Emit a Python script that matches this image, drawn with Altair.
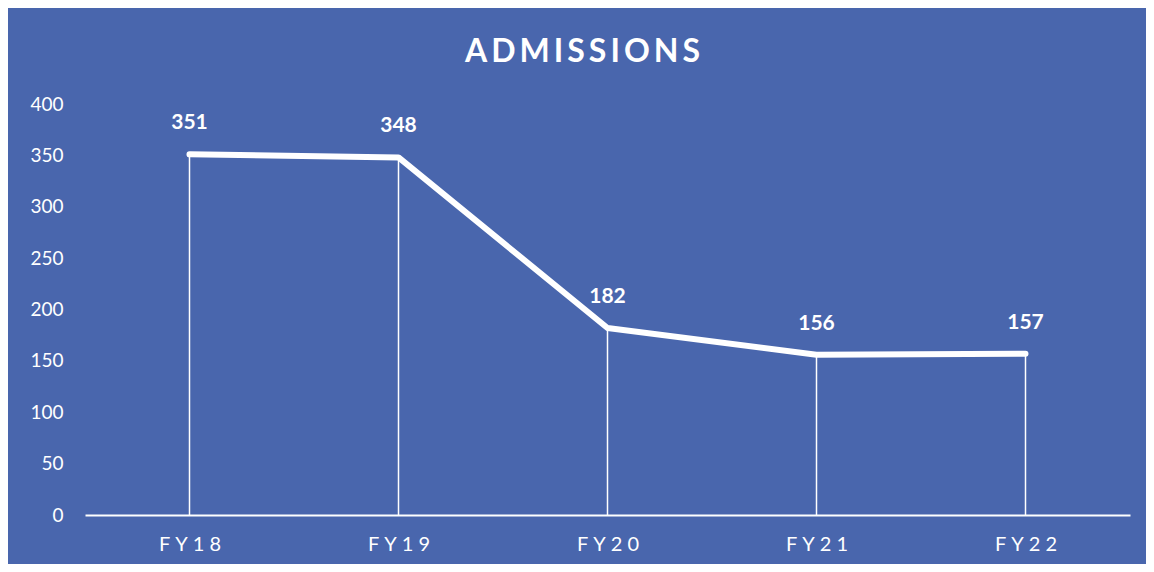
import altair as alt
import pandas as pd

years = ["FY18", "FY19", "FY20", "FY21", "FY22"]
admissions = [351, 348, 182, 156, 157]
y_ticks = [0, 50, 100, 150, 200, 250, 300, 350, 400]

df = pd.DataFrame({"year": years, "value": admissions})

BG = "#4966AD"
FONT = "Lato"
TS = "\u2009"
XS = "\u2005"

label_map = "{" + ",".join(f"'{y}':'{XS.join(y)}'" for y in years) + "}"

x = alt.X("year:N", sort=years,
          scale=alt.Scale(type="point", padding=0.5),
          axis=alt.Axis(title=None, labelAngle=0, ticks=False, domain=True,
                        domainColor="white", domainWidth=2,
                        labelColor="white", labelFont=FONT, labelFontSize=20,
                        labelPadding=19, labelExpr=f"{label_map}[datum.label]"))
y = alt.Y("value:Q", scale=alt.Scale(domain=[0, 400], nice=False),
          axis=alt.Axis(title=None, values=y_ticks, grid=False, domain=False, ticks=False,
                        labelColor="white", labelFont=FONT, labelFontSize=19,
                        labelPadding=22))

base = alt.Chart(df)

drops = base.mark_rule(color="white", strokeWidth=1.5).encode(
    x=x, y=y, y2=alt.datum(0))
line = base.mark_line(color="white", strokeWidth=6, strokeCap="round",
                      strokeJoin="round").encode(x=x, y=y)
labels = base.mark_text(color="white", font=FONT, fontWeight="bold", fontSize=21,
                        dy=-31).encode(x=x, y=y, text="value:Q")

title_text = TS.join("ADMISSIONS")

chart = alt.layer(drops, line, labels).properties(
    width=1045, height=411,
    background=BG,
    padding={"left": 77, "top": 96, "right": 16, "bottom": 49},
    autosize=alt.AutoSizeParams(type="none"),
    title=alt.TitleParams(title_text, font=FONT, fontSize=32, fontWeight="bold",
                          color="white", anchor="middle", offset=26, dx=-25),
).configure_view(stroke=None)

chart.save("out.html", embed_options={"renderer": "svg", "actions": False})
